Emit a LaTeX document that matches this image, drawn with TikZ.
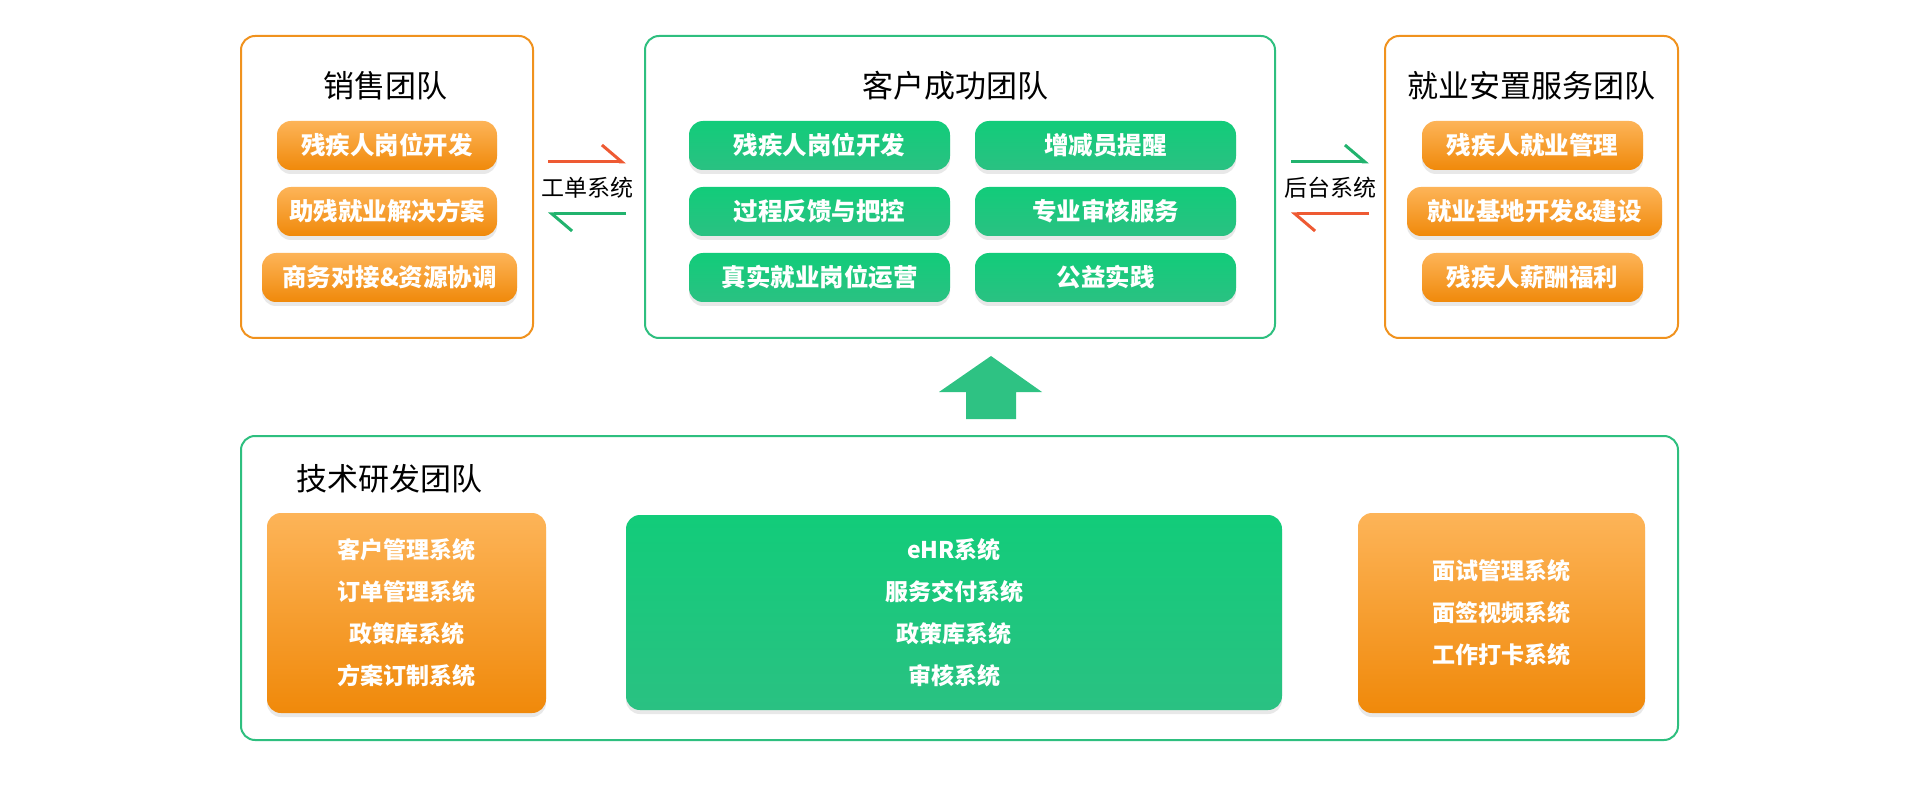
\documentclass[tikz,border=0pt]{standalone}
\usepackage{fontspec}
\setmainfont{Noto Sans CJK SC}
\usetikzlibrary{positioning,shadows,arrows.meta}

\definecolor{lineorange}{HTML}{F0921E}
\definecolor{linegreen}{HTML}{2EBF7F}
\definecolor{pilltop}{HTML}{FDB458}
\definecolor{pillbot}{HTML}{F0890A}
\definecolor{gpilltop}{HTML}{12CC7A}
\definecolor{gpillbot}{HTML}{2AC182}
\definecolor{arrowred}{HTML}{EE5A33}
\definecolor{arrowgreen}{HTML}{22B36E}
\definecolor{bigarrow}{HTML}{2EC283}

\begin{document}
\begin{tikzpicture}[
    x=1pt, y=-1pt,
    teamo/.style={draw=lineorange, rounded corners=14pt, line width=2pt, fill=white},
    teamg/.style={draw=linegreen, rounded corners=14pt, line width=2pt, fill=white},
    title/.style={font=\fontsize{31}{34}\selectfont, text=black, inner sep=0pt},
    pillo/.style={rounded corners=14pt, top color=pilltop, bottom color=pillbot,
                  text=white, minimum height=49pt, inner sep=0pt,
                  font=\fontsize{24.5}{28}\selectfont\bfseries,
                  drop shadow={opacity=0.18, shadow xshift=0pt, shadow yshift=-4pt}},
    pillg/.style={pillo, top color=gpilltop, bottom color=gpillbot, minimum width=261pt},
    syso/.style={rounded corners=14pt, top color=pilltop, bottom color=pillbot,
                 text=white, minimum height=200pt, align=center, inner sep=0pt,
                 font=\fontsize{23}{42}\selectfont\bfseries,
                 drop shadow={opacity=0.18, shadow xshift=0pt, shadow yshift=-4pt}},
    sysg/.style={syso, top color=gpilltop, bottom color=gpillbot},
    label/.style={font=\fontsize{23}{26}\selectfont, text=black, inner sep=0pt},
    flowr/.style={draw=arrowred, line width=3pt,
                  -{Straight Barb[left, length=20pt, width=34pt]}},
    flowg/.style={flowr, draw=arrowgreen}
]
\useasboundingbox (0,0) rectangle (1920,794);

% Team boxes
\node[teamo, minimum width=292pt, minimum height=302pt] (sales) at (387,187) {};
\node[teamg, minimum width=630pt, minimum height=302pt] (success) at (960,187) {};
\node[teamo, minimum width=293pt, minimum height=302pt] (placement) at (1531.5,187) {};
\node[teamg, minimum width=1437pt, minimum height=304pt] (tech) at (959.5,588) {};

% Titles
\node[title] (salest) at (385,86) {销售团队};
\node[title] (successt) at (955,86) {客户成功团队};
\node[title] (placementt) at (1531,86) {就业安置服务团队};
\node[title, anchor=west] (techt) at (296,479) {技术研发团队};

% Sales items
\node[pillo, minimum width=220pt] (s1) at (387,145.5) {残疾人岗位开发};
\node[pillo, minimum width=220pt] (s2) at (387,211.5) {助残就业解决方案};
\node[pillo, minimum width=255pt] (s3) at (389.5,277.5) {商务对接\&资源协调};

% Customer success items
\node[pillg] (c1) at (819.5,145.5) {残疾人岗位开发};
\node[pillg] (c2) at (819.5,211.5) {过程反馈与把控};
\node[pillg] (c3) at (819.5,277.5) {真实就业岗位运营};
\node[pillg] (c4) at (1105.5,145.5) {增减员提醒};
\node[pillg] (c5) at (1105.5,211.5) {专业审核服务};
\node[pillg] (c6) at (1105.5,277.5) {公益实践};

% Placement items
\node[pillo, minimum width=221pt] (p1) at (1532.5,145.5) {残疾人就业管理};
\node[pillo, minimum width=255pt] (p2) at (1534.5,211.5) {就业基地开发\&建设};
\node[pillo, minimum width=221pt] (p3) at (1532.5,277.5) {残疾人薪酬福利};

% Systems
\node[syso, minimum width=279pt] (crm) at (406.5,613) {客户管理系统\\订单管理系统\\政策库系统\\方案订制系统};
\node[sysg, minimum width=656pt, minimum height=195pt] (ehr) at (954,612.5) {eHR系统\\服务交付系统\\政策库系统\\审核系统};
\node[syso, minimum width=287pt] (interview) at (1501.5,613) {面试管理系统\\面签视频系统\\工作打卡系统};

% Links between teams
\node[label] (ticket) at (587,188) {工单系统};
\node[label] (backend) at (1330,188) {后台系统};
\draw[flowr, shorten <=14pt, shorten >=18pt] ([yshift=25pt]sales.east) -- ([yshift=25pt]success.west);
\draw[flowg, shorten <=18pt, shorten >=14pt] ([yshift=-27pt]success.west) -- ([yshift=-27pt]sales.east);
\draw[flowg, shorten <=15pt, shorten >=15pt] ([yshift=25pt]success.east) -- ([yshift=25pt]placement.west);
\draw[flowr, shorten <=15pt, shorten >=15pt] ([yshift=-27pt]placement.west) -- ([yshift=-27pt]success.east);

% Support arrow
\fill[bigarrow] (991,356) -- (1042,392) -- (1016,392) -- (1016,419)
    -- (966,419) -- (966,392) -- (939,392) -- cycle;

\end{tikzpicture}
\end{document}
